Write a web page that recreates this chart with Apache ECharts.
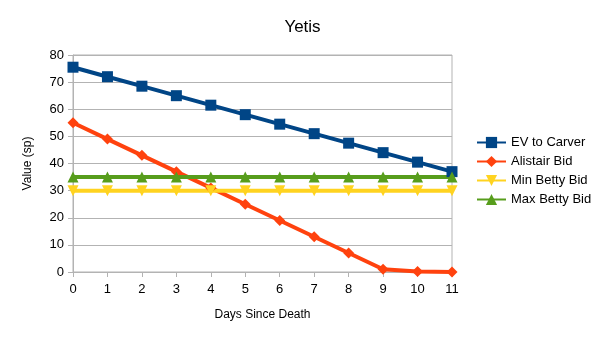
<!DOCTYPE html>
<html>
<head>
<meta charset="utf-8">
<script src="https://cdn.jsdelivr.net/npm/echarts@6/dist/echarts.min.js"></script>
<style>html,body{margin:0;padding:0;background:#fff}#c{width:605px;height:340px}</style>
</head>
<body>
<div id="c"></div>
<script>
const days = ['0','1','2','3','4','5','6','7','8','9','10','11'];
const evToCarver = [75.5, 72, 68.5, 65, 61.5, 58, 54.5, 51, 47.5, 44, 40.5, 37];
const alistairBid = [55, 49, 43, 37, 31, 25, 19, 13, 7, 1, 0.2, 0];
const minBettyBid = [30, 30, 30, 30, 30, 30, 30, 30, 30, 30, 30, 30];
const maxBettyBid = [35, 35, 35, 35, 35, 35, 35, 35, 35, 35, 35, 35];

const font = 'Liberation Sans, Arial, sans-serif';
const chart = echarts.init(document.getElementById('c'));
function s(name, data, color, symbol, size, rotate) {
  return {
    name, type: 'line', data, symbol, symbolSize: size, symbolRotate: rotate || 0,
    lineStyle: {color, width: 4}, itemStyle: {color}, animation: false
  };
}
chart.setOption({
  animation: false,
  title: {text: 'Yetis', left: 'center', top: 14, textStyle: {fontFamily: font, fontSize: 17, fontWeight: 'normal', color: '#000'}},
  grid: {left: 73, right: 153, top: 55, bottom: 68, show: true, borderColor: '#b3b3b3', borderWidth: 1},
  legend: {
    orient: 'vertical', left: 471, top: 131, itemWidth: 29, itemHeight: 14, itemGap: 6,
    textStyle: {fontFamily: font, fontSize: 13, color: '#000'},
    data: ['EV to Carver', 'Alistair Bid', 'Min Betty Bid', 'Max Betty Bid']
  },
  xAxis: {
    type: 'category', data: days, boundaryGap: false,
    name: 'Days Since Death', nameLocation: 'middle', nameGap: 37,
    nameTextStyle: {fontFamily: font, fontSize: 12, color: '#000'},
    axisLine: {lineStyle: {color: '#b3b3b3'}},
    axisTick: {show: true, length: 5, lineStyle: {color: '#b3b3b3'}},
    axisLabel: {fontFamily: font, fontSize: 13, color: '#000', margin: 11},
    splitLine: {show: false}
  },
  yAxis: {
    type: 'value', min: 0, max: 80, interval: 10,
    name: 'Value (sp)', nameLocation: 'middle', nameGap: 39,
    nameTextStyle: {fontFamily: font, fontSize: 12, color: '#000'},
    axisLine: {show: true, lineStyle: {color: '#b3b3b3'}},
    axisTick: {show: true, length: 5, lineStyle: {color: '#b3b3b3'}},
    axisLabel: {fontFamily: font, fontSize: 13, color: '#000', margin: 9},
    splitLine: {lineStyle: {color: '#b3b3b3'}}
  },
  series: [
    s('EV to Carver', evToCarver, '#004586', 'rect', 11),
    s('Alistair Bid', alistairBid, '#ff420e', 'diamond', 11),
    s('Min Betty Bid', minBettyBid, '#ffd320', 'triangle', 11, 180),
    s('Max Betty Bid', maxBettyBid, '#579d1c', 'triangle', 11)
  ]
});
</script>
</body>
</html>
